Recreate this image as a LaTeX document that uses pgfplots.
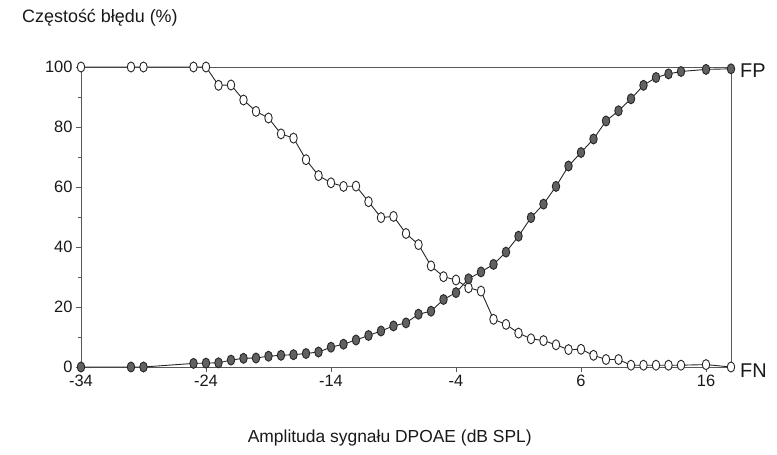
\documentclass[border=0pt]{standalone}
\usepackage{pgfplots}
\pgfplotsset{compat=1.18}
\usepackage{fontspec}
\setmainfont{Liberation Sans}
\pgfplotstableread{
x y
-34 100
-30 100
-29 100
-25 100
-24 100
-23 93.9
-22 94.0
-21 89.0
-20 85.2
-19 83.0
-18 77.7
-17 76.3
-16 69.1
-15 63.8
-14 61.4
-13 60.2
-12 60.3
-11 55.1
-10 49.8
-9 50.2
-8 44.5
-7 40.8
-6 33.7
-5 30.1
-4 29.0
-3 26.4
-2 25.3
-1 15.9
0 14.2
1 11.3
2 9.4
3 8.8
4 7.4
5 5.8
6 5.9
7 3.9
8 2.5
9 2.5
10 0.6
11 0.6
12 0.6
13 0.6
14 0.6
16 0.8
18 0
}\fn
\pgfplotstableread{
x y
-34 0
-30 0
-29 0
-25 1.2
-24 1.3
-23 1.4
-22 2.3
-21 2.9
-20 3.0
-19 3.6
-18 3.9
-17 4.1
-16 4.5
-15 5.0
-14 6.6
-13 7.6
-12 9.0
-11 10.5
-10 12.0
-9 13.7
-8 14.7
-7 17.6
-6 18.6
-5 22.5
-4 24.8
-3 29.4
-2 31.7
-1 34.2
0 38.3
1 43.6
2 49.8
3 54.3
4 60.2
5 67.0
6 71.5
7 76.0
8 82.0
9 85.4
10 89.4
11 93.9
12 96.5
13 97.7
14 98.5
16 99.2
18 99.4
}\fp
\begin{document}
\begin{tikzpicture}
\path[use as bounding box] (-81bp,-88bp) rectangle (696bp,367bp);
\begin{axis}[
  scale only axis, width=650bp, height=300bp,
  xmin=-34, xmax=18, ymin=0, ymax=100,
  xtick={-34,-24,...,16}, ytick={0,20,...,100},
  minor ytick={10,30,...,90},
  tick pos=left, tick align=outside,
  major tick length=5bp, minor tick length=3bp,
  axis line style={draw=black!65, line width=0.9bp},
  every tick/.style={black!65, line width=0.9bp},
  tick label style={font=\fontsize{16.5}{18}\selectfont, text=black!90},
  /pgf/number format/assume math mode=true,
  xlabel={Amplituda sygnału DPOAE (dB SPL)},
  xlabel style={font=\fontsize{17.5}{20}\selectfont, text=black!90, at={(axis description cs:0.475,0)}, anchor=center, yshift=-71bp},
  clip=false,
]
\addplot[draw=black!85, line width=0.9bp, mark=*, mark size=5bp,
  mark options={xscale=0.75, fill=white, draw=black!85, line width=0.9bp}] table[x=x,y=y] {\fn};
\addplot[draw=black!85, line width=0.9bp, mark=*, mark size=5bp,
  mark options={xscale=0.75, fill=black!62, draw=black!85, line width=0.9bp}] table[x=x,y=y] {\fp};
\node[anchor=west, inner sep=0, font=\fontsize{18}{20}\selectfont, text=black!90] at (rel axis cs:0,1) [xshift=-59bp, yshift=49bp] {Częstość błędu (\%)};
\node[anchor=west, inner sep=0, font=\fontsize{20}{22}\selectfont, text=black!90] at (axis cs:18,99.4) [xshift=9bp, yshift=-2bp] {FP};
\node[anchor=west, inner sep=0, font=\fontsize{20}{22}\selectfont, text=black!90] at (axis cs:18,0) [xshift=9bp, yshift=-4bp] {FN};
\end{axis}
\end{tikzpicture}
\end{document}
